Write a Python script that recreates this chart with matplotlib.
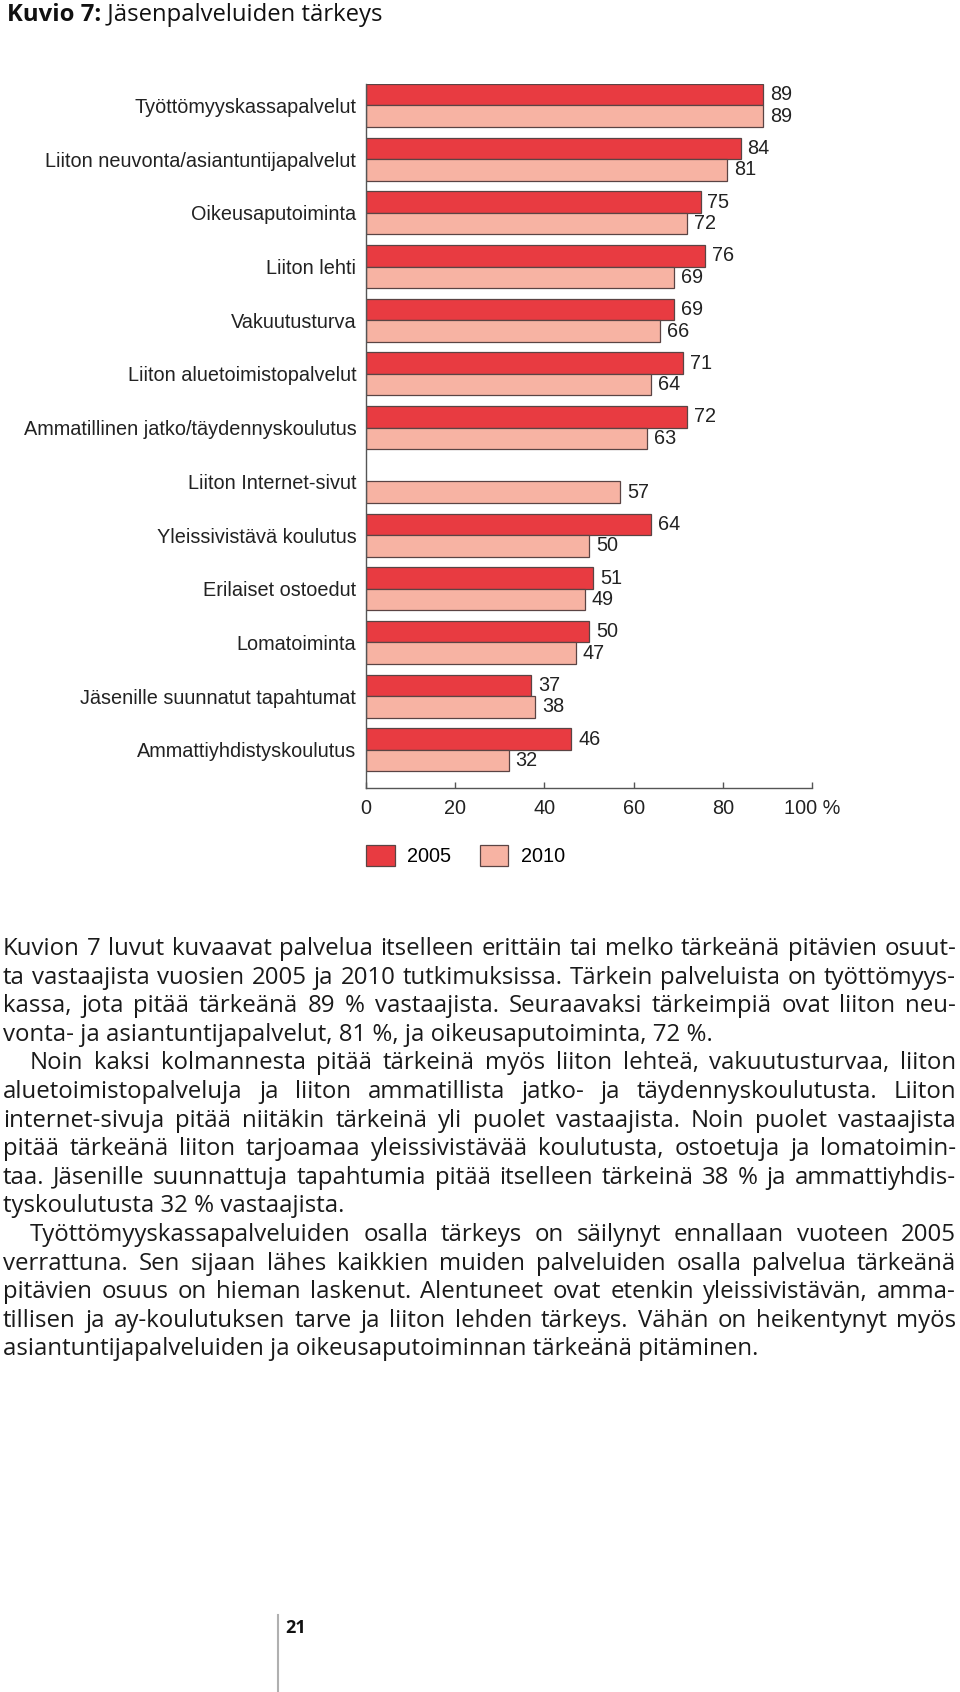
import numpy as np
import matplotlib
matplotlib.use("Agg")
import matplotlib.pyplot as plt
from matplotlib.lines import Line2D

# data
categories = [
    "Työttömyyskassapalvelut",
    "Liiton neuvonta/asiantuntijapalvelut",
    "Oikeusaputoiminta",
    "Liiton lehti",
    "Vakuutusturva",
    "Liiton aluetoimistopalvelut",
    "Ammatillinen jatko/täydennyskoulutus",
    "Liiton Internet-sivut",
    "Yleissivistävä koulutus",
    "Erilaiset ostoedut",
    "Lomatoiminta",
    "Jäsenille suunnatut tapahtumat",
    "Ammattiyhdistyskoulutus",
]
v2005 = [89, 84, 75, 76, 69, 71, 72, None, 64, 51, 50, 37, 46]
v2010 = [89, 81, 72, 69, 66, 64, 63, 57, 50, 49, 47, 38, 32]
series_names = ["2005", "2010"]
xticks = [0, 20, 40, 60, 80, 100]
xticklabels = ["0", "20", "40", "60", "80", "100 %"]

title_bold = "Kuvio 7:"
title_rest = " Jäsenpalveluiden tärkeys"
page_no = "21"

# paragraphs, already broken into lines as printed
paragraphs = [
    ["Kuvion 7 luvut kuvaavat palvelua itselleen erittäin tai melko tärkeänä pitävien osuut-",
     "ta vastaajista vuosien 2005 ja 2010 tutkimuksissa. Tärkein palveluista on työttömyys-",
     "kassa, jota pitää tärkeänä 89 % vastaajista. Seuraavaksi tärkeimpiä ovat liiton neu-",
     "vonta- ja asiantuntijapalvelut, 81 %, ja oikeusaputoiminta, 72 %."],
    ["Noin kaksi kolmannesta pitää tärkeinä myös liiton lehteä, vakuutusturvaa, liiton",
     "aluetoimistopalveluja ja liiton ammatillista jatko- ja täydennyskoulutusta. Liiton",
     "internet-sivuja pitää niitäkin tärkeinä yli puolet vastaajista. Noin puolet vastaajista",
     "pitää tärkeänä liiton tarjoamaa yleissivistävää koulutusta, ostoetuja ja lomatoimin-",
     "taa. Jäsenille suunnattuja tapahtumia pitää itselleen tärkeinä 38 % ja ammattiyhdis-",
     "tyskoulutusta 32 % vastaajista."],
    ["Työttömyyskassapalveluiden osalla tärkeys on säilynyt ennallaan vuoteen 2005",
     "verrattuna. Sen sijaan lähes kaikkien muiden palveluiden osalla palvelua tärkeänä",
     "pitävien osuus on hieman laskenut. Alentuneet ovat etenkin yleissivistävän, amma-",
     "tillisen ja ay-koulutuksen tarve ja liiton lehden tärkeys. Vähän on heikentynyt myös",
     "asiantuntijapalveluiden ja oikeusaputoiminnan tärkeänä pitäminen."],
]

W, H = 960, 1692
fig = plt.figure(figsize=(W / 100, H / 100), dpi=100)
fig.patch.set_facecolor("white")


def fx(x):
    return x / W


def fy(y):
    return 1 - y / H


c05 = "#e83b41"
c10 = "#f7b3a3"
edge = "#5a4444"
cfont = "Liberation Sans"
cfs = 14.3

ax = fig.add_axes([fx(366), fy(788), 446 / W, 704 / H])
pos = np.arange(len(categories))
m05 = [i for i, v in enumerate(v2005) if v is not None]
b05 = ax.barh(pos[m05] - 0.2, [v2005[i] for i in m05], height=0.4,
              color=c05, edgecolor=edge, linewidth=0.9)
b10 = ax.barh(pos + 0.2, v2010, height=0.4,
              color=c10, edgecolor=edge, linewidth=0.9)
ax.bar_label(b05, labels=[str(v2005[i]) for i in m05], padding=5,
             fontsize=cfs, family=cfont, color="#222")
ax.bar_label(b10, labels=[str(v) for v in v2010], padding=5,
             fontsize=cfs, family=cfont, color="#222")

ax.set_xlim(0, 100)
ax.set_ylim(len(categories) - 0.29, -0.4)
ax.set_yticks(pos, labels=categories)
ax.set_xticks(xticks, labels=xticklabels)
for lab in ax.get_yticklabels() + ax.get_xticklabels():
    lab.set_fontfamily(cfont)
    lab.set_fontsize(cfs)
    lab.set_color("#222")
ax.tick_params(axis="y", length=0, pad=7)
ax.tick_params(axis="x", direction="in", length=4, width=1, color="#555", pad=8)
for s in ["top", "right"]:
    ax.spines[s].set_visible(False)
for s in ["left", "bottom"]:
    ax.spines[s].set_color("#555")
    ax.spines[s].set_linewidth(1)

leg = ax.legend([b05, b10], series_names, loc="upper left",
                bbox_to_anchor=(fx(366), fy(845)), bbox_transform=fig.transFigure,
                ncol=2, frameon=False, borderpad=0, borderaxespad=0,
                handlelength=1.44, handleheight=1.24, handletextpad=0.62,
                columnspacing=1.45, prop={"family": cfont, "size": cfs})

bfont = "Open Sans"
bweight = "medium"
r = fig.canvas.get_renderer()


def text_width(s, fs, **kw):
    kw.setdefault("weight", bweight)
    t = fig.text(0, 0, s, fontsize=fs, family=bfont, **kw)
    wd = t.get_window_extent(r).width
    t.remove()
    return wd


# title, sized to span the same width as in the print
tw = text_width(title_bold, 16, weight="bold") + text_width(title_rest, 16)
title_fs = 16 * 376 / tw
t1 = fig.text(fx(7), fy(21), title_bold, fontsize=title_fs, family=bfont,
              weight="bold", color="#111", va="baseline")
w1 = t1.get_window_extent(r).width
fig.text(fx(7 + w1), fy(21), title_rest, fontsize=title_fs, family=bfont,
         weight=bweight, color="#111", va="baseline")

# body text, justified
x_left, x_right = 3, 956
indent = 27
lead = 28.6
y0 = 955

# pick a size where the tightest justified line still fits
ratios = []
for pi, para in enumerate(paragraphs):
    for li, line in enumerate(para[:-1]):
        xs = x_left + (indent if (li == 0 and pi > 0) else 0)
        ratios.append((x_right - xs) / text_width(line, 15))
body_fs = 15 * min(ratios) * 0.99

line_no = 0
for pi, para in enumerate(paragraphs):
    for li, line in enumerate(para):
        y = y0 + line_no * lead
        xs = x_left + (indent if (li == 0 and pi > 0) else 0)
        last = li == len(para) - 1
        if last:
            fig.text(fx(xs), fy(y), line, fontsize=body_fs, family=bfont,
                     weight=bweight, color="#1a1a1a", va="baseline")
        else:
            words = line.split(" ")
            widths = [text_width(w, body_fs) for w in words]
            gap = (x_right - xs - sum(widths)) / (len(words) - 1)
            x = xs
            for w, wd in zip(words, widths):
                fig.text(fx(x), fy(y), w, fontsize=body_fs, family=bfont,
                         weight=bweight, color="#1a1a1a", va="baseline")
                x += wd + gap
        line_no += 1

# page number and margin rule
fig.add_artist(Line2D([fx(278), fx(278)], [fy(1615), 0], transform=fig.transFigure,
                      color="#b0b0b0", linewidth=1.5))
fig.text(fx(285), fy(1633), page_no, fontsize=13, family=bfont, weight="bold",
         color="#111", va="baseline")

fig.savefig("out.png", dpi=100)
